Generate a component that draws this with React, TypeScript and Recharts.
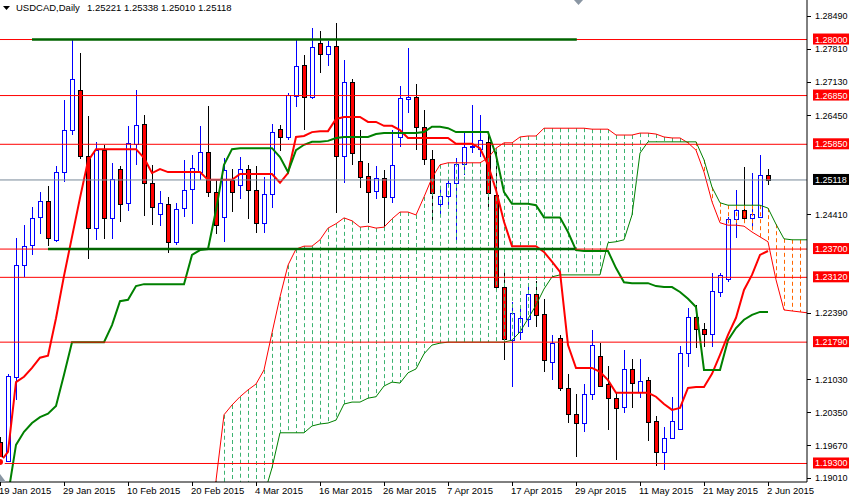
import {
  Bar,
  ComposedChart,
  Line,
  ReferenceLine,
  XAxis,
  YAxis,
} from "recharts";

// daily bars, 19 Jan 2015 .. 2 Jun 2015
const openP = [
  1.1974, 1.1935, 1.2108, 1.2337, 1.2378, 1.2436, 1.2469, 1.2389, 1.2528, 1.2614,
  1.2696, 1.2561, 1.2413, 1.2573, 1.2434, 1.2534, 1.2465, 1.2586, 1.2627, 1.2506,
  1.2442, 1.2463, 1.2385, 1.2454, 1.2493, 1.2528, 1.2569, 1.2487, 1.2436, 1.2512,
  1.2502, 1.2534, 1.2491, 1.2424, 1.2483, 1.2616, 1.26, 1.2684, 1.2748, 1.2682,
  1.2793, 1.277, 1.2787, 1.2561, 1.2713, 1.2551, 1.252, 1.2489, 1.2516, 1.2477,
  1.26, 1.2678, 1.2682, 1.2621, 1.2555, 1.2463, 1.2479, 1.2506, 1.2545, 1.258,
  1.2575, 1.259, 1.2481, 1.2292, 1.2183, 1.22, 1.2227, 1.2278, 1.2237, 1.2138,
  1.2188, 1.2085, 1.2032, 1.2013, 1.2073, 1.2151, 1.2093, 1.2064, 1.2046, 1.2124,
  1.2077, 1.2101, 1.2017, 1.1954, 1.1982, 1.2001, 1.2157, 1.2231, 1.2206, 1.2196,
  1.2282, 1.2309, 1.2432, 1.245, 1.2434, 1.2436, 1.25221,
];
const highP = [
  1.1984, 1.2114, 1.2393, 1.2419, 1.2456, 1.2487, 1.2499, 1.2541, 1.2676, 1.2799,
  1.2772, 1.2643, 1.259, 1.2584, 1.2547, 1.2541, 1.2623, 1.2696, 1.2645, 1.2543,
  1.2489, 1.2477, 1.2465, 1.2553, 1.2563, 1.2623, 1.2664, 1.2512, 1.2557, 1.2534,
  1.2559, 1.2543, 1.2541, 1.2518, 1.2627, 1.2625, 1.269, 1.2799, 1.2768, 1.2824,
  1.2818, 1.2797, 1.2834, 1.2758, 1.2719, 1.2614, 1.2547, 1.2541, 1.2532, 1.2614,
  1.2705, 1.2783, 1.2709, 1.2655, 1.2573, 1.2497, 1.2518, 1.2557, 1.2608, 1.2666,
  1.2645, 1.2608, 1.2569, 1.2327, 1.2261, 1.2255, 1.23, 1.2305, 1.2268, 1.2194,
  1.2194, 1.2114, 1.2073, 1.2093, 1.2204, 1.2177, 1.213, 1.2075, 1.2163, 1.2144,
  1.2144, 1.2107, 1.2027, 1.2005, 1.2067, 1.2171, 1.2249, 1.2255, 1.2218, 1.2321,
  1.2321, 1.2436, 1.2491, 1.2538, 1.2526, 1.2563, 1.25338,
];
const lowP = [
  1.1927, 1.1933, 1.206, 1.2313, 1.2358, 1.2401, 1.2376, 1.2385, 1.2508, 1.2604,
  1.2555, 1.235, 1.2389, 1.2391, 1.2391, 1.2426, 1.2448, 1.2543, 1.2438, 1.2419,
  1.2417, 1.2362, 1.2378, 1.2436, 1.2422, 1.2512, 1.2477, 1.2401, 1.2385, 1.2446,
  1.2473, 1.2432, 1.2403, 1.2403, 1.2454, 1.2571, 1.2594, 1.2662, 1.2614, 1.2678,
  1.2731, 1.2746, 1.2444, 1.2506, 1.2543, 1.2495, 1.2424, 1.2473, 1.2407, 1.2465,
  1.258, 1.2649, 1.2573, 1.2543, 1.2426, 1.2436, 1.2452, 1.2389, 1.2522, 1.2567,
  1.2559, 1.245, 1.2282, 1.2142, 1.2087, 1.2183, 1.221, 1.221, 1.2118, 1.2101,
  1.2079, 1.2013, 1.1943, 1.1995, 1.206, 1.2087, 1.1999, 1.1937, 1.2034, 1.2044,
  1.2064, 1.1976, 1.1925, 1.1917, 1.198, 1.1999, 1.2128, 1.2167, 1.2169, 1.2169,
  1.2272, 1.2302, 1.2393, 1.2424, 1.2409, 1.2434, 1.2501,
];
const closeP = [
  1.1937, 1.211, 1.2337, 1.2376, 1.2434, 1.2469, 1.2393, 1.2528, 1.2614, 1.2719,
  1.2561, 1.2413, 1.2573, 1.2434, 1.2514, 1.2463, 1.2588, 1.2625, 1.2506, 1.2456,
  1.2465, 1.2385, 1.2452, 1.2491, 1.2536, 1.2569, 1.2487, 1.2419, 1.2532, 1.2487,
  1.2534, 1.2491, 1.2424, 1.2483, 1.261, 1.26, 1.2686, 1.2746, 1.2682, 1.2785,
  1.277, 1.2787, 1.2561, 1.2713, 1.2567, 1.2518, 1.2487, 1.2516, 1.2477, 1.2543,
  1.268, 1.2682, 1.2621, 1.2555, 1.2485, 1.2479, 1.2506, 1.2545, 1.258, 1.2582,
  1.2594, 1.2485, 1.2292, 1.2186, 1.2239, 1.2229, 1.2278, 1.2235, 1.2142, 1.2177,
  1.2085, 1.2032, 1.2013, 1.2073, 1.2173, 1.2089, 1.2064, 1.2044, 1.2124, 1.2095,
  1.2099, 1.2015, 1.1954, 1.1982, 1.2017, 1.2157, 1.2231, 1.2206, 1.2196, 1.2284,
  1.2317, 1.2432, 1.245, 1.2434, 1.2442, 1.2522, 1.25118,
];

// ichimoku: tenkan-sen / kijun-sen per bar
const tenkan = [
  1.1933, 1.1954, 1.2097, 1.2108, 1.2126, 1.2147, 1.2151, 1.2228, 1.2315, 1.2395,
  1.2475, 1.2551, 1.2575, 1.2575, 1.2575, 1.2575, 1.2575, 1.2575, 1.2557, 1.2526,
  1.2534, 1.2528, 1.2528, 1.2528, 1.2528, 1.2528, 1.2512, 1.2512, 1.2512, 1.2512,
  1.2524, 1.2524, 1.2524, 1.2524, 1.2524, 1.2506, 1.2526, 1.26, 1.2602, 1.261,
  1.2612, 1.2612, 1.2637, 1.2641, 1.2641, 1.2641, 1.2631, 1.2631, 1.2623, 1.2623,
  1.2614, 1.2598, 1.2598, 1.2598, 1.2598, 1.2598, 1.2598, 1.2586, 1.2586, 1.2586,
  1.2577, 1.2543, 1.2491, 1.2426, 1.2376, 1.2376, 1.2376, 1.2376, 1.2364, 1.2344,
  1.2323, 1.2173, 1.2126, 1.2126, 1.2126, 1.2118, 1.2101, 1.2075, 1.2075, 1.2075,
  1.2075, 1.2075, 1.2067, 1.2052, 1.204, 1.2044, 1.2085, 1.2087, 1.2087, 1.2114,
  1.2153, 1.2194, 1.2229, 1.2286, 1.2317, 1.2358, 1.2366,
];
const kijun = [
  1.1835, 1.1865, 1.1968, 1.1995, 1.2013, 1.2025, 1.2032, 1.2048, 1.2112, 1.2179,
  1.2179, 1.2179, 1.2179, 1.2179, 1.2214, 1.2263, 1.2266, 1.2294, 1.2298, 1.2298,
  1.2298, 1.2298, 1.2298, 1.2298, 1.2358, 1.2368, 1.237, 1.245, 1.2543, 1.2575,
  1.2577, 1.2577, 1.2577, 1.2577, 1.2577, 1.2559, 1.2528, 1.2573, 1.2584, 1.259,
  1.259, 1.2592, 1.2598, 1.26, 1.26, 1.26, 1.26, 1.2606, 1.2608, 1.2608,
  1.2608, 1.2608, 1.2608, 1.261, 1.2621, 1.2621, 1.2618, 1.261, 1.261, 1.261,
  1.261, 1.261, 1.2563, 1.2487, 1.2463, 1.2463, 1.2463, 1.246, 1.2435, 1.2435,
  1.2435, 1.2405, 1.2368, 1.2366, 1.2366, 1.2366, 1.2366, 1.2331, 1.2302, 1.23,
  1.23, 1.23, 1.2294, 1.2292, 1.2292, 1.2282, 1.2268, 1.2251, 1.2122, 1.2122,
  1.2122, 1.2183, 1.2208, 1.2225, 1.2235, 1.2241, 1.2241,
];

// senkou spans, already shifted 26 bars forward
const spanA = [
  null, null, null, null, null, null, null, null, null, null,
  null, null, null, null, null, null, null, null, null, null,
  null, null, null, null, null, null, 1.184, 1.1895, 1.203, 1.205,
  1.2067, 1.2081, 1.2093, 1.2122, 1.2198, 1.2272, 1.2337, 1.237, 1.2376, 1.2376,
  1.2389, 1.2413, 1.2422, 1.2434, 1.2428, 1.2415, 1.2417, 1.2413, 1.2415, 1.2432,
  1.2446, 1.2446, 1.244, 1.2477, 1.2516, 1.2543, 1.2547, 1.2547, 1.2547, 1.2547,
  1.2547, 1.2557, 1.2577, 1.2588, 1.2588, 1.26, 1.2602, 1.2602, 1.2618, 1.2618,
  1.2618, 1.2618, 1.2618, 1.2618, 1.2616, 1.2616, 1.2616, 1.2604, 1.2604, 1.2604,
  1.2608, 1.2608, 1.2606, 1.26, 1.2598, 1.2598, 1.2588, 1.2573, 1.2528, 1.2467,
  1.2424, 1.2419, 1.2419, 1.2417, 1.2405, 1.2395, 1.2385, 1.2307, 1.2245, 1.2243,
  1.2241, 1.2239,
];
const spanB = [
  null, null, null, null, null, null, null, null, null, null,
  null, null, null, null, null, null, null, null, null, null,
  null, null, null, null, null, null, 1.18, 1.18, 1.18, 1.18,
  1.18, 1.18, 1.18, 1.1865, 1.1921, 1.1993, 1.1993, 1.1993, 1.1993, 1.2007,
  1.2011, 1.2013, 1.2019, 1.2052, 1.2056, 1.2056, 1.2064, 1.2067, 1.2089, 1.2097,
  1.2095, 1.2116, 1.2124, 1.2155, 1.2173, 1.2177, 1.2179, 1.2179, 1.2179, 1.2179,
  1.2179, 1.2179, 1.2179, 1.2179, 1.2183, 1.22, 1.2227, 1.2255, 1.2288, 1.2313,
  1.2317, 1.2317, 1.2317, 1.2317, 1.2317, 1.2317, 1.2383, 1.2385, 1.2389, 1.244,
  1.2567, 1.259, 1.259, 1.259, 1.259, 1.259, 1.259, 1.259, 1.2553, 1.2497,
  1.2465, 1.246, 1.246, 1.246, 1.246, 1.246, 1.2454, 1.2421, 1.2391, 1.2389,
  1.2389, 1.2389,
];

const levelLines = [1.28, 1.2685, 1.2585, 1.237, 1.2312, 1.2179, 1.193];
const trendFrom = [4, 6];
const trendTo = [72.1, 71.9];
const trendLevel = [1.28, 1.237];
const lastPrice = 1.25118;
// scale labels that are not hidden behind the level boxes
const priceTicks = [
  1.2849, 1.2781, 1.2713, 1.2645, 1.2441, 1.2239, 1.2103, 1.2035, 1.1967, 1.1901,
];
const dateTicks = [0, 8, 16, 24, 32, 40, 48, 56, 64, 72, 80, 88, 96];
const dateLabels = [
  "19 Jan 2015", "29 Jan 2015", "10 Feb 2015", "20 Feb 2015", "4 Mar 2015",
  "16 Mar 2015", "26 Mar 2015", "7 Apr 2015", "17 Apr 2015", "29 Apr 2015",
  "11 May 2015", "21 May 2015", "2 Jun 2015",
];
const headerValues = ["1.25221", "1.25338", "1.25010", "1.25118"];

const FONT = "'Liberation Sans', Arial, sans-serif";
const BULL = "#0000FF";
const BEAR = "#FF0000";
const HATCH_UP = "#3CB371";
const HATCH_DOWN = "#FF6600";

const rows = spanA.map((a, idx) => {
  const has = idx < openP.length;
  const b = spanB[idx];
  return {
    idx,
    open: has ? openP[idx] : null,
    high: has ? highP[idx] : null,
    low: has ? lowP[idx] : null,
    close: has ? closeP[idx] : null,
    candle: has ? [lowP[idx], highP[idx]] : null,
    tenkan: has ? tenkan[idx] : null,
    kijun: has ? kijun[idx] : null,
    spanA: a,
    spanB: b,
    cloud: a != null && b != null ? [Math.min(a, b), Math.max(a, b)] : null,
  };
});

const CandleShape = (props: any) => {
  const { x, y, width, height, payload } = props;
  if (!payload || payload.open == null || !Number.isFinite(y)) return null;
  const { open, close, high, low } = payload;
  const top = height >= 0 ? y : y + height;
  const h = Math.abs(height);
  const cx = Math.round(x + width / 2);
  const span = high - low;
  const toY = (v: number) => (span > 0 ? top + ((high - v) / span) * h : top);
  const up = close >= open;
  const b1 = Math.round(Math.min(toY(open), toY(close)));
  const b2 = Math.round(Math.max(toY(open), toY(close)));
  return (
    <g>
      <line
        x1={cx + 0.5}
        x2={cx + 0.5}
        y1={Math.round(top)}
        y2={Math.round(top + h)}
        stroke={up ? BULL : "#000"}
      />
      <rect
        x={cx - 1.5}
        y={b1 + 0.5}
        width={4}
        height={Math.max(b2 - b1, 0)}
        fill={up ? "#fff" : BEAR}
        stroke={up ? BULL : "#000"}
      />
    </g>
  );
};

const CloudShape = (props: any) => {
  const { x, y, width, height, payload } = props;
  if (!payload || payload.cloud == null || !Number.isFinite(y)) return null;
  const top = height >= 0 ? y : y + height;
  const h = Math.abs(height);
  const cx = Math.round(x + width / 2) + 0.5;
  const color = payload.spanA > payload.spanB ? HATCH_UP : HATCH_DOWN;
  return (
    <line x1={cx} x2={cx} y1={top} y2={top + h} stroke={color} strokeDasharray="4 3" />
  );
};

const PriceTick = (props: any) => {
  const { x, y, payload } = props;
  const v = payload.value as number;
  const boxed = levelLines.includes(v) || v === lastPrice;
  if (boxed) {
    return (
      <g>
        <rect x={x - 2} y={y - 6} width={40} height={11} fill={v === lastPrice ? "#000" : "#FF0000"} />
        <text x={x} y={y + 3} fill="#fff" fontSize={9} fontFamily={FONT}>
          {v.toFixed(5)}
        </text>
      </g>
    );
  }
  return (
    <g>
      <line x1={x - 8} x2={x - 4} y1={Math.round(y) + 0.5} y2={Math.round(y) + 0.5} stroke="#000" />
      <text x={x} y={y + 3.5} fill="#000" fontSize={9} fontFamily={FONT}>
        {v.toFixed(5)}
      </text>
    </g>
  );
};

const DateTick = (props: any) => {
  const { x, y, payload } = props;
  const k = dateTicks.indexOf(payload.value);
  return (
    <g>
      <line x1={Math.round(x) + 0.5} x2={Math.round(x) + 0.5} y1={y} y2={y + 4} stroke="#000" />
      <text x={x - 1} y={y + 12} fill="#000" fontSize={9.5} fontFamily={FONT}>
        {dateLabels[k]}
      </text>
    </g>
  );
};

export default function App() {
  const yTicks = [...priceTicks, lastPrice, ...levelLines];
  return (
    <div style={{ position: "absolute", left: 0, top: 0, width: 849, height: 498, background: "#fff" }}>
      <ComposedChart
        width={849}
        height={498}
        data={rows}
        margin={{ top: 0, right: 0, bottom: 0, left: 0 }}
      >
        <XAxis
          dataKey="idx"
          type="number"
          domain={[0, 100.875]}
          allowDataOverflow
          ticks={dateTicks}
          interval={0}
          height={16}
          tickSize={0}
          tickMargin={0}
          tickLine={false}
          axisLine={{ stroke: "#000" }}
          tick={<DateTick />}
        />
        <XAxis
          xAxisId="cloud"
          dataKey="idx"
          type="number"
          domain={[0, 100.875]}
          allowDataOverflow
          hide
        />
        <YAxis
          orientation="right"
          type="number"
          domain={[1.1892, 1.28811]}
          allowDataOverflow
          ticks={yTicks}
          interval={0}
          width={42}
          tickSize={0}
          tickMargin={8}
          tickLine={false}
          axisLine={{ stroke: "#000" }}
          tick={<PriceTick />}
        />
        <Bar dataKey="candle" barSize={6} shape={<CandleShape />} isAnimationActive={false} />
        <Bar
          xAxisId="cloud"
          dataKey="cloud"
          barSize={6}
          shape={<CloudShape />}
          isAnimationActive={false}
        />
        <Line
          type="linear"
          dataKey="spanA"
          stroke="#FF0000"
          strokeWidth={1}
          dot={false}
          isAnimationActive={false}
        />
        <Line
          type="linear"
          dataKey="spanB"
          stroke="#008000"
          strokeWidth={1}
          dot={false}
          isAnimationActive={false}
        />
        <Line
          type="linear"
          dataKey="tenkan"
          stroke="#FF0000"
          strokeWidth={2}
          dot={false}
          isAnimationActive={false}
        />
        <Line
          type="linear"
          dataKey="kijun"
          stroke="#008000"
          strokeWidth={2}
          dot={false}
          isAnimationActive={false}
        />
        <ReferenceLine y={lastPrice} stroke="#778899" strokeWidth={1} />
        {levelLines.map((lv) => (
          <ReferenceLine key={lv} y={lv} stroke="#FF0000" strokeWidth={1} />
        ))}
        {trendLevel.map((lv, k) => (
          <ReferenceLine
            key={`t${lv}`}
            segment={[
              { x: trendFrom[k], y: lv },
              { x: trendTo[k], y: lv },
            ]}
            stroke="#006400"
            strokeWidth={2.5}
          />
        ))}
      </ComposedChart>
      <svg
        width={849}
        height={498}
        style={{ position: "absolute", left: 0, top: 0, pointerEvents: "none" }}
      >
        <polygon points="3,6 10,6 6.5,10" fill="#000" />
        <text x={16} y={11} fontSize={9.5} fontFamily={FONT} fill="#000">
          USDCAD,Daily
        </text>
        <text x={87} y={11} fontSize={9.5} fontFamily={FONT} fill="#000">
          {headerValues.join(" ")}
        </text>
        <polygon points="574,0 583,0 578.5,5" fill="#8A96A3" />
        <polygon points="0,474 6,482 0,482" fill="#8A96A3" />
      </svg>
    </div>
  );
}
